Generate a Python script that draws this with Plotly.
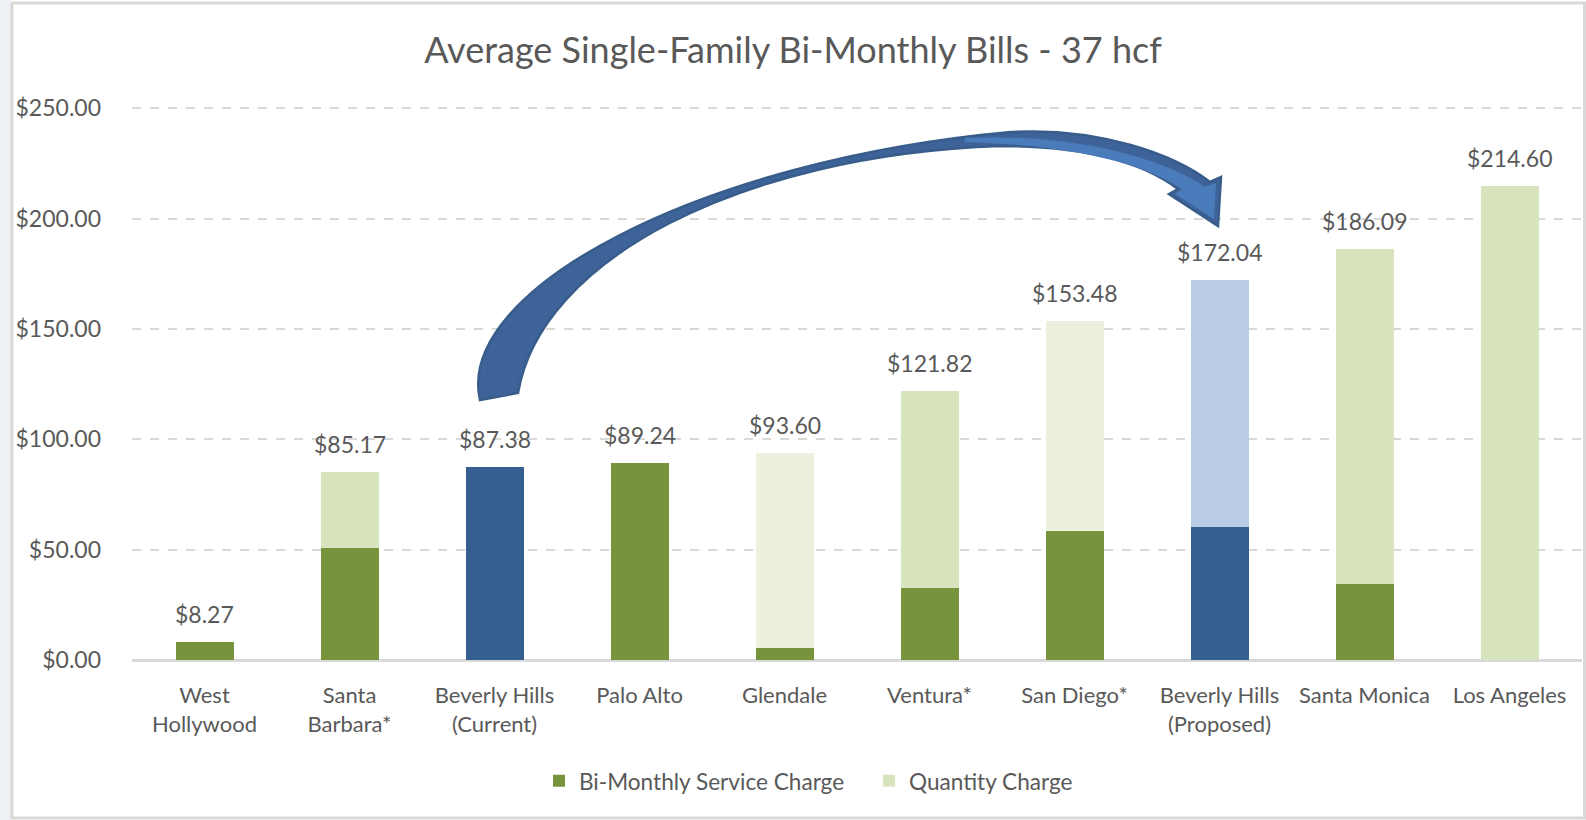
import plotly.graph_objects as go

categories = ["West<br>Hollywood", "Santa<br>Barbara*", "Beverly Hills<br>(Current)", "Palo Alto",
              "Glendale", "Ventura*", "San Diego*", "Beverly Hills<br>(Proposed)", "Santa Monica", "Los Angeles"]
service_charge = [8.27, 50.8, 87.38, 89.24, 5.5, 32.5, 58.6, 60.4, 34.3, 0.0]
quantity_charge = [0.0, 34.37, 0.0, 0.0, 88.10, 89.32, 94.88, 111.64, 151.79, 214.60]
totals = [8.27, 85.17, 87.38, 89.24, 93.60, 121.82, 153.48, 172.04, 186.09, 214.60]
service_colors = ["#77933C", "#77933C", "#365F91", "#77933C", "#77933C",
                  "#77933C", "#77933C", "#365F91", "#77933C", "#77933C"]
quantity_colors = ["#D7E4BD", "#D7E4BD", "#B9CDE5", "#D7E4BD", "#EBF1DE",
                   "#D7E4BD", "#EBF1DE", "#B9CDE5", "#D7E4BD", "#D7E4BD"]
y_ticks = [0, 50, 100, 150, 200, 250]
y_tick_labels = ["$0.00", "$50.00", "$100.00", "$150.00", "$200.00", "$250.00"]

W, H = 1586, 820
L, R, T, B = 132, 4, 106, 160
PW, PH = W - L - R, H - T - B
FONT = "Lato, 'Open Sans', sans-serif"
GREY = "#595959"


def px(x, y):
    return (x - L) / PW, (H - B - y) / PH


fig = go.Figure()
fig.add_trace(go.Bar(x=categories, y=service_charge, name="Bi-Monthly Service Charge",
                     marker=dict(color=service_colors, line=dict(width=0))))
fig.add_trace(go.Bar(x=categories, y=quantity_charge, name="Quantity Charge",
                     marker=dict(color=quantity_colors, line=dict(width=0))))

for c, t in zip(categories, totals):
    fig.add_annotation(x=c, y=t, text=f"${t:,.2f}", showarrow=False, yanchor="bottom",
                       yshift=12, font=dict(family=FONT, size=23, color=GREY))


def P(p):
    a, b = px(*p)
    return f"{a:.5f},{b:.5f}"


def build(start, segs):
    s = "M " + P(start)
    for kind, pts in segs:
        if kind == "C":
            s += " C " + " ".join(P(p) for p in pts)
        else:
            s += " L " + " L ".join(P(p) for p in pts)
    return s + " Z"


# curved block arrow (decoration) - dark back body
arrow_path = build((480, 400), [
    ("C", [(455, 290), (700, 160), (1011, 132)]),
    ("C", [(1100, 127), (1175, 155), (1210, 182)]),
    ("L", [(1221, 177), (1218, 226), (1169, 194), (1178, 189)]),
    ("C", [(1140, 160), (1080, 146), (1000, 146)]),
    ("C", [(740, 155), (540, 260), (518, 393)]),
])
fig.add_shape(type="path", path=arrow_path, xref="paper", yref="paper",
              fillcolor="#3E6399", line=dict(color="#385D8A", width=2.5), layer="above")
# lighter front face near the head
face_path = build((965, 138), [
    ("C", [(1080, 133), (1165, 160), (1205, 187)]),
    ("L", [(1216, 183), (1214, 219), (1175, 194), (1182, 189)]),
    ("C", [(1140, 162), (1070, 145), (965, 142)]),
])
fig.add_shape(type="path", path=face_path, xref="paper", yref="paper",
              fillcolor="#4A7BBA", line=dict(width=0), layer="above")

# chart border and left strip
x0, y0 = px(0, 0)
x1, y1 = px(11, H)
fig.add_shape(type="rect", xref="paper", yref="paper", x0=x0, y0=y0, x1=x1, y1=y1,
              fillcolor="#EDF1F6", line=dict(width=0), layer="below")
bx0, by0 = px(12, 3)
bx1, by1 = px(1584.5, 818)
fig.add_shape(type="rect", xref="paper", yref="paper", x0=bx0, y0=by0, x1=bx1, y1=by1,
              line=dict(color="#D9D9D9", width=3), fillcolor="rgba(0,0,0,0)", layer="below")

lx, ly = px(869, 781)
ty = 1 - 50 / H
fig.update_layout(
    width=W, height=H,
    margin=dict(l=L, r=R, t=T, b=B),
    barmode="stack", bargap=0.6,
    paper_bgcolor="white", plot_bgcolor="white",
    font=dict(family=FONT, color=GREY, size=22),
    title=dict(text="Average Single-Family Bi-Monthly Bills - 37 hcf", x=0.5, xanchor="center",
               y=ty, yanchor="middle", yref="container",
               font=dict(family=FONT, size=36, color=GREY)),
    showlegend=True,
    legend=dict(orientation="h", x=lx, xanchor="center", y=ly, yanchor="middle",
                font=dict(family=FONT, size=22.6, color=GREY), traceorder="normal",
                entrywidth=285, entrywidthmode="pixels"),
    xaxis=dict(showgrid=False, showline=True, linecolor="#D9D9D9", linewidth=2,
               ticks="", tickfont=dict(family=FONT, size=22, color=GREY), ticklabelstandoff=15,
               fixedrange=True),
    yaxis=dict(range=[0, 251], tickvals=y_ticks, ticktext=y_tick_labels,
               showgrid=True, gridcolor="#D9D9D9", griddash="dash", gridwidth=2,
               zeroline=True, zerolinecolor="#D9D9D9", zerolinewidth=2,
               showline=False, ticks="", tickfont=dict(family=FONT, size=23, color=GREY),
               ticklabelstandoff=30, fixedrange=True),
)

fig.write_html("out.html", config={"displayModeBar": False},
               post_script="document.body.style.margin='0px';")
